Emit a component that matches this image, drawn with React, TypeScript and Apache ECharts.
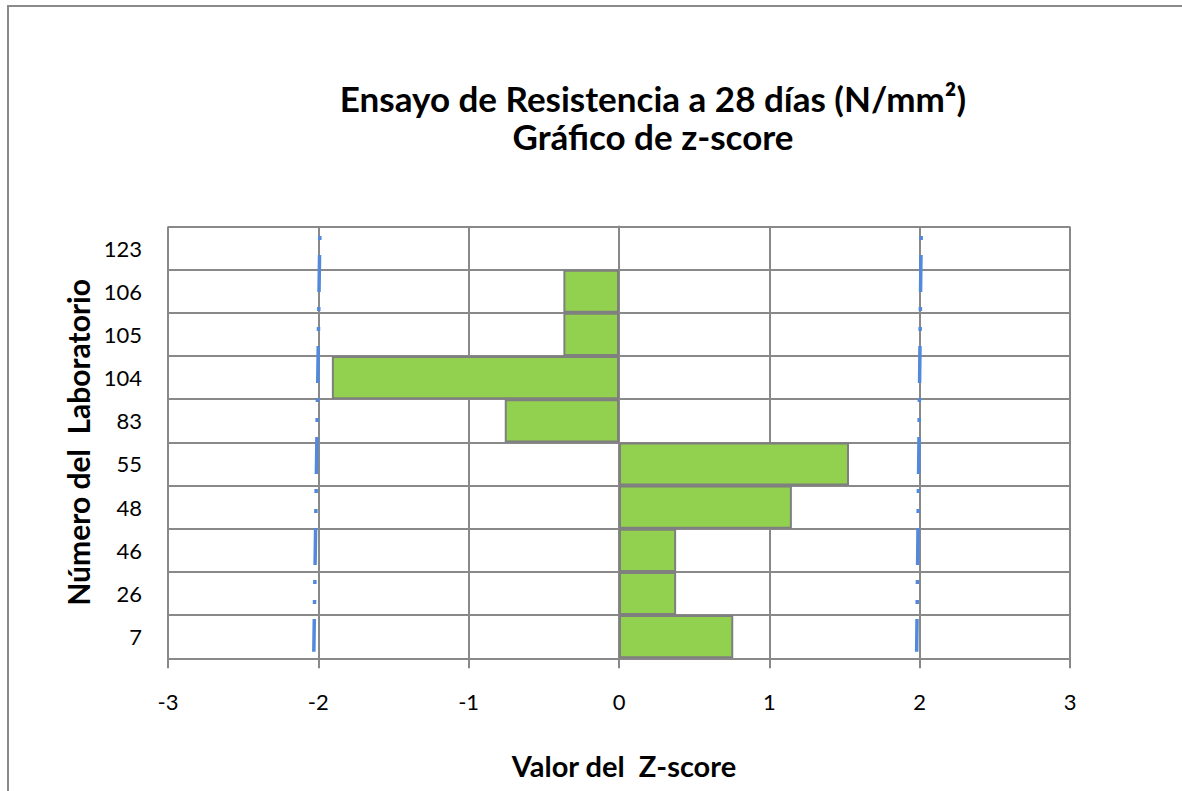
import React, { useEffect, useRef } from "react";
import * as echarts from "echarts";

const categories = ["7", "26", "46", "48", "55", "83", "104", "105", "106", "123"];
const zScores: (number | null)[] = [0.76, 0.38, 0.38, 1.15, 1.53, -0.76, -1.91, -0.37, -0.37, null];
const xTicks = [-3, -2, -1, 0, 1, 2, 3];
// limit lines (slightly slanted dash-dot lines near -2 and +2)
const lowerLimitX = [-1.99, -2.03];
const upperLimitX = [2.01, 1.98];
const limitSpanY = [0.978, 0.015];

const titleText = "Ensayo de Resistencia a 28 días (N/mm²)\nGráfico de z-score";
const xName = "Valor del  Z-score";
const yName = "Número del  Laboratorio";

export default function App() {
  const ref = useRef<HTMLDivElement>(null);
  useEffect(() => {
    const chart = echarts.init(ref.current!, undefined, { renderer: "svg" });
    const gridColor = "#898989";
    const font = "Lato, 'DejaVu Sans', sans-serif";
    const limitSeries = (xs: number[]) => ({
      type: "line",
      xAxisIndex: 0,
      yAxisIndex: 1,
      symbol: "none",
      silent: true,
      z: 5,
      lineStyle: { color: "#5289DA", width: 3.5, type: [4, 15, 37, 15, 4, 16], cap: "butt" },
      data: xs.map((x, i) => [x, limitSpanY[i]]),
    });
    chart.setOption({
      animation: false,
      backgroundColor: "#ffffff",
      textStyle: { fontFamily: font },
      title: {
        text: titleText,
        left: 648,
        top: 74,
        textAlign: "center",
        textStyle: { fontFamily: font, fontWeight: "bold", fontSize: 35, lineHeight: 38, color: "#000" },
      },
      graphic: [
        {
          type: "polyline",
          shape: { points: [[8, 900], [8, 6], [1300, 6]] },
          style: { fill: "none", stroke: "#8a8a8a", lineWidth: 2 },
          silent: true,
          z: -10,
        },
      ],
      grid: { left: 168, right: 112, top: 226.5, bottom: 132.7, containLabel: false },
      xAxis: [
        {
          type: "value",
          min: xTicks[0],
          max: xTicks[xTicks.length - 1],
          interval: 1,
          name: xName,
          nameLocation: "middle",
          nameGap: 93,
          nameTextStyle: { fontFamily: font, fontWeight: "bold", fontSize: 29, color: "#000", padding: [0, 0, 0, 10] },
          axisLine: { show: true, lineStyle: { color: gridColor, width: 2 } },
          axisTick: { show: true, length: 10, lineStyle: { color: gridColor, width: 2 } },
          axisLabel: { margin: 32, fontSize: 22, color: "#000", fontFamily: font },
          splitLine: { show: true, lineStyle: { color: gridColor, width: 2 } },
        },
      ],
      yAxis: [
        {
          type: "category",
          data: categories,
          name: yName,
          nameLocation: "middle",
          nameRotate: 90,
          nameGap: 61,
          nameTextStyle: { fontFamily: font, fontWeight: "bold", fontSize: 30, color: "#000" },
          axisLine: { show: true, lineStyle: { color: gridColor, width: 2 } },
          axisTick: { show: false },
          axisLabel: { margin: 26, fontSize: 22, color: "#000", fontFamily: font },
          splitLine: { show: true, lineStyle: { color: gridColor, width: 2 } },
        },
        { type: "value", min: 0, max: 1, show: false },
      ],
      series: [
        {
          type: "bar",
          data: zScores,
          barCategoryGap: "0%",
          itemStyle: { color: "#92D050", borderColor: "#7f7f7f", borderWidth: 2 },
          z: 3,
        },
        limitSeries(lowerLimitX),
        limitSeries(upperLimitX),
      ],
    });
    return () => chart.dispose();
  }, []);
  return (
    <div
      ref={ref}
      style={{ position: "fixed", left: 0, top: 0, width: 1182, height: 791, background: "#fff" }}
    />
  );
}
